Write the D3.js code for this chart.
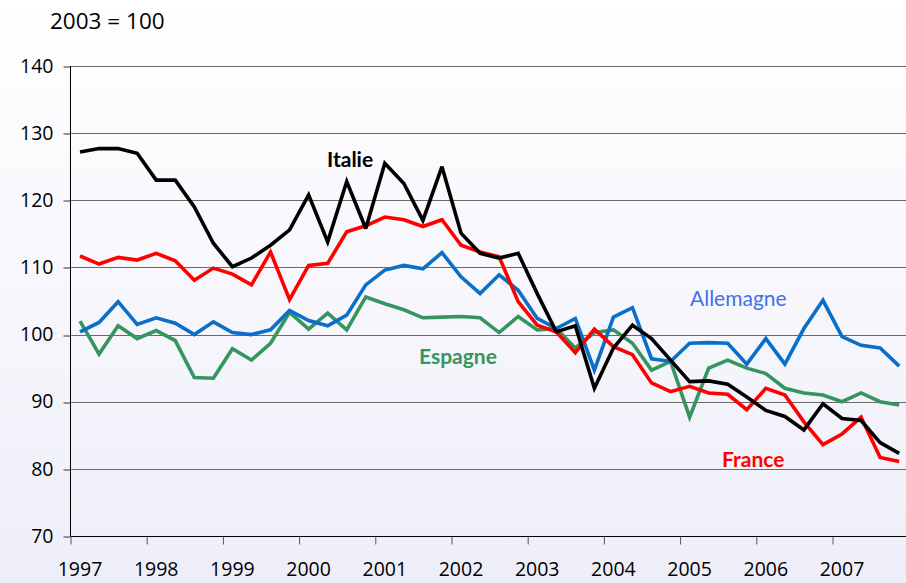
<!DOCTYPE html>
<html><head><meta charset="utf-8">
<script src="https://cdn.jsdelivr.net/npm/d3@7"></script>
<style>html,body{margin:0;padding:0;background:#fff;}svg{display:block;}</style>
</head><body>
<svg id="chart" width="906" height="583"></svg>
<script>
const years = ["1997","1998","1999","2000","2001","2002","2003","2004","2005","2006","2007"];
const yTicks = [70,80,90,100,110,120,130,140];
const italie = [127.2,127.7,127.7,127.0,123.0,123.0,119.0,113.6,110.1,111.4,113.3,115.6,120.8,113.8,122.8,115.8,125.5,122.5,117.0,125.0,115.1,112.1,111.4,112.1,106.1,100.4,101.3,92.0,98.0,101.4,99.4,96.2,93.0,93.1,92.6,90.7,88.7,87.8,85.8,89.7,87.5,87.2,83.9,82.3];
const france = [111.7,110.5,111.5,111.1,112.1,111.0,108.1,109.9,109.0,107.4,112.3,105.2,110.3,110.6,115.3,116.2,117.5,117.1,116.1,117.1,113.3,112.3,111.6,104.9,101.4,100.4,97.3,100.8,98.2,97.0,92.8,91.5,92.3,91.3,91.1,88.8,92.0,91.0,87.0,83.6,85.2,87.7,81.7,81.1];
const allemagne = [100.4,101.8,104.9,101.5,102.5,101.7,100.0,101.9,100.3,100.0,100.7,103.6,102.1,101.3,102.9,107.4,109.6,110.3,109.8,112.2,108.6,106.1,108.9,106.6,102.4,100.9,102.4,94.7,102.6,104.0,96.4,96.0,98.7,98.8,98.7,95.6,99.4,95.6,100.9,105.1,99.7,98.4,98.0,95.3];
const espagne = [102.0,97.1,101.3,99.4,100.6,99.1,93.6,93.5,97.9,96.2,98.7,103.3,100.8,103.2,100.7,105.6,104.6,103.7,102.5,102.6,102.7,102.5,100.3,102.7,100.7,100.9,98.0,100.3,100.7,98.7,94.7,96.0,87.7,95.0,96.2,95.0,94.2,92.0,91.3,91.0,90.0,91.3,90.0,89.5];

const series = [
  {name:"Espagne", values:espagne, color:"#36955f"},
  {name:"Allemagne", values:allemagne, color:"#0a6fc8"},
  {name:"France", values:france, color:"#ff0000"},
  {name:"Italie", values:italie, color:"#000000"}
];
const labels = [
  {text:"Italie", x:327, y:167, color:"#000", weight:"bold"},
  {text:"Espagne", x:419, y:364, color:"#36955f", weight:"bold"},
  {text:"Allemagne", x:690, y:306, color:"#3f73e6", weight:"normal"},
  {text:"France", x:722, y:467, color:"#ff0000", weight:"bold"}
];

const svg = d3.select("#chart");
const W = 906, H = 583;
const defs = svg.append("defs");
const grad = defs.append("linearGradient").attr("id","bg").attr("x1",0).attr("y1",0).attr("x2",0).attr("y2",1);
grad.append("stop").attr("offset","0%").attr("stop-color","#ffffff");
grad.append("stop").attr("offset","100%").attr("stop-color","#eeeef9");
svg.append("rect").attr("width",W).attr("height",H).attr("fill","url(#bg)");

const nQ = italie.length;
const x = d3.scaleLinear().domain([0, nQ]).range([70.5, 70.5 + 44*19.05]);
const y = d3.scaleLinear().domain([70,140]).range([536,66]);

// gridlines
svg.append("g").selectAll("line").data(yTicks.filter(v=>v>70)).join("line")
  .attr("x1",70.5).attr("x2",W)
  .attr("y1",d=>Math.round(y(d))+0.5).attr("y2",d=>Math.round(y(d))+0.5)
  .attr("stroke","#6a6a6a").attr("stroke-width",1);

// y axis
const yAxis = d3.axisLeft(y).tickValues(yTicks).tickSize(7).tickPadding(10).tickFormat(d3.format("d"));
const gy = svg.append("g").attr("transform","translate(70.5,0)").call(yAxis);
gy.select(".domain").remove();
gy.append("line").attr("x1",0).attr("x2",0).attr("y1",66).attr("y2",536).attr("stroke","#000");
gy.selectAll(".tick line").attr("stroke","#333").attr("transform",d=>`translate(0,${Math.round(y(d))+0.5-y(d)})`);
gy.selectAll("text").attr("font-family","'Open Sans', sans-serif").attr("font-size","19.5px").attr("fill","#000");

// x axis
const xAxis = d3.axisBottom(x).tickValues(d3.range(0,44,4)).tickSize(8).tickPadding(18)
  .tickFormat((d,i)=>years[i]);
const gx = svg.append("g").attr("transform","translate(0,536.5)").call(xAxis);
gx.select(".domain").remove();
gx.append("line").attr("x1",70.5).attr("x2",W).attr("y1",0).attr("y2",0).attr("stroke","#000");
gx.selectAll(".tick line").attr("stroke","#555");
gx.selectAll("text").attr("font-family","'Open Sans', sans-serif").attr("font-size","19.5px").attr("fill","#000").attr("dx","9");

// lines
const line = d3.line().x((d,i)=>x(i+0.5)).y(d=>y(d));
svg.append("g").selectAll("path").data(series).join("path")
  .attr("d",d=>line(d.values)).attr("fill","none")
  .attr("stroke",d=>d.color).attr("stroke-width",3.6).attr("stroke-linejoin","miter").attr("stroke-miterlimit",3);

// series labels
svg.append("g").selectAll("text").data(labels).join("text")
  .attr("x",d=>d.x).attr("y",d=>d.y).text(d=>d.text)
  .attr("fill",d=>d.color).attr("font-weight",d=>d.weight)
  .attr("font-family","Lato, sans-serif").attr("font-size","21px");

// unit title
svg.append("text").attr("x",50).attr("y",29).text("2003 = 100")
  .attr("font-family","'Open Sans', sans-serif").attr("font-size","22.5px").attr("fill","#000");
</script>
</body></html>
